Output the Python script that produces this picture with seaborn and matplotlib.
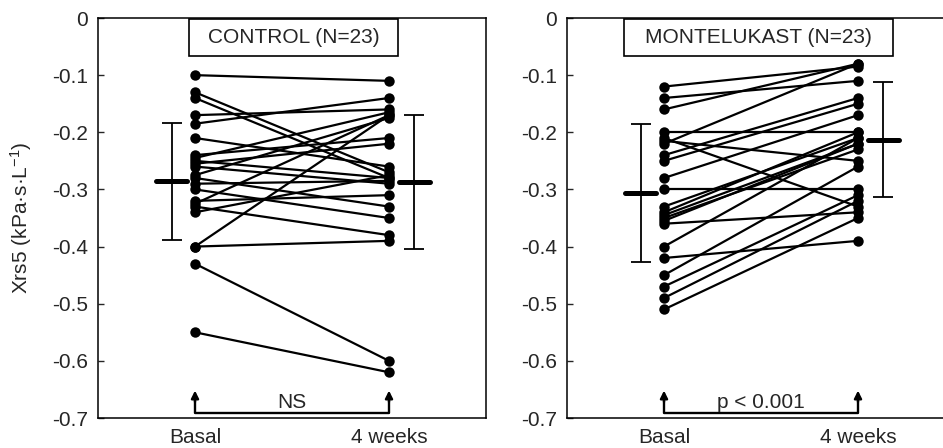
import numpy as np
import pandas as pd
import matplotlib
matplotlib.use('Agg')
import matplotlib.pyplot as plt
from matplotlib.patches import Rectangle
import seaborn as sns

# values (Xrs5, kPa.s.L-1)
times = ['Basal', '4 weeks']

control_basal = [-0.10, -0.13, -0.14, -0.17, -0.185, -0.21, -0.24, -0.245, -0.25, -0.255, -0.26, -0.275,
                 -0.28, -0.29, -0.30, -0.32, -0.325, -0.33, -0.34, -0.40, -0.40, -0.43, -0.55]
control_4w = [-0.11, -0.27, -0.28, -0.16, -0.14, -0.26, -0.21, -0.165, -0.28, -0.22, -0.29, -0.175,
              -0.33, -0.285, -0.35, -0.31, -0.17, -0.38, -0.275, -0.17, -0.39, -0.60, -0.62]

monte_basal = [-0.12, -0.14, -0.16, -0.20, -0.21, -0.22, -0.24, -0.25, -0.28, -0.30, -0.33, -0.34,
               -0.345, -0.35, -0.355, -0.36, -0.40, -0.42, -0.45, -0.47, -0.49, -0.51, -0.215]
monte_4w = [-0.085, -0.11, -0.08, -0.20, -0.33, -0.08, -0.14, -0.15, -0.17, -0.30, -0.21, -0.20,
            -0.22, -0.23, -0.22, -0.34, -0.21, -0.39, -0.26, -0.31, -0.32, -0.35, -0.25]

# group mean and SD as drawn
control_mean = [-0.286, -0.287]
control_sd = [0.103, 0.117]
monte_mean = [-0.306, -0.213]
monte_sd = [0.121, 0.101]

yticks = [0, -0.1, -0.2, -0.3, -0.4, -0.5, -0.6, -0.7]
ytick_labels = ['0', '-0.1', '-0.2', '-0.3', '-0.4', '-0.5', '-0.6', '-0.7']


def long_form(basal, after):
    n = len(basal)
    return pd.DataFrame({'id': list(range(n)) * 2,
                         't': [0] * n + [1] * n,
                         'v': list(basal) + list(after)})


sns.set_style('ticks')
plt.rcParams['font.family'] = ['Liberation Sans', 'DejaVu Sans']
plt.rcParams['mathtext.fontset'] = 'custom'
plt.rcParams['mathtext.rm'] = 'Liberation Sans'
plt.rcParams['mathtext.it'] = 'Liberation Sans:italic'
plt.rcParams['font.size'] = 15

fig = plt.figure(figsize=(9.43, 4.48), dpi=100)
W, H = 943, 448
ax1 = fig.add_axes([98 / W, 30 / H, 388 / W, 400 / H])
ax2 = fig.add_axes([567 / W, 30 / H, 388 / W, 400 / H])


def panel(ax, basal, after, mean, sd, title, box_x, stat):
    df = long_form(basal, after)
    sns.lineplot(data=df, x='t', y='v', units='id', estimator=None, color='black',
                 marker='o', markersize=7.5, markeredgewidth=0, lw=1.6, ax=ax, legend=False)
    # mean +/- SD bars beside each column
    for xpos, m, s in zip([-0.12, 1.13], mean, sd):
        ax.errorbar([xpos], [m], yerr=[s], fmt='none', ecolor='black', elinewidth=1.3,
                    capsize=7.5, capthick=1.3)
        ax.plot([xpos - 0.08, xpos + 0.08], [m, m], color='black', lw=3.6, solid_capstyle='round')
    # header box
    ax.add_patch(Rectangle((box_x[0], -0.0665), box_x[1] - box_x[0], 0.0648, fc='white',
                           ec='black', lw=1.2, zorder=5))
    ax.text((box_x[0] + box_x[1]) / 2, -0.034, title, ha='center', va='center', fontsize=15, zorder=6)
    # comparison bracket
    ax.plot([0, 0, 1, 1], [-0.665, -0.691, -0.691, -0.665], color='black', lw=1.7)
    for xpos in [0, 1]:
        ax.annotate('', xy=(xpos, -0.652), xytext=(xpos, -0.672),
                    arrowprops=dict(arrowstyle='-|>', color='black', lw=1.7, mutation_scale=11,
                                    shrinkA=0, shrinkB=0))
    ax.text(0.5, -0.672, stat, ha='center', va='center', fontsize=15)

    ax.set_xlim(-0.5, 1.5)
    ax.set_ylim(-0.7, 0)
    ax.set_yticks(yticks)
    ax.set_yticklabels(ytick_labels)
    ax.set_xticks([0, 1])
    ax.set_xticklabels(times)
    ax.tick_params(axis='x', length=0, pad=7, labelsize=15)
    ax.tick_params(axis='y', direction='in', length=4, width=1, labelsize=15, pad=7)
    ax.set_xlabel('')
    ax.set_ylabel('')
    for sp in ax.spines.values():
        sp.set_linewidth(1.1)
        sp.set_color('black')


panel(ax1, control_basal, control_4w, control_mean, control_sd, 'CONTROL (N=23)', (-0.031, 1.047), 'NS')
panel(ax2, monte_basal, monte_4w, monte_mean, monte_sd, 'MONTELUKAST (N=23)', (-0.206, 1.18), 'p < 0.001')

ax1.set_ylabel('Xrs5 (kPa·s·L$^{-1}$)', fontsize=15)
ax1.yaxis.set_label_coords(-(98 - 34) / 388, 0.5)

fig.savefig('out.png', dpi=100)
